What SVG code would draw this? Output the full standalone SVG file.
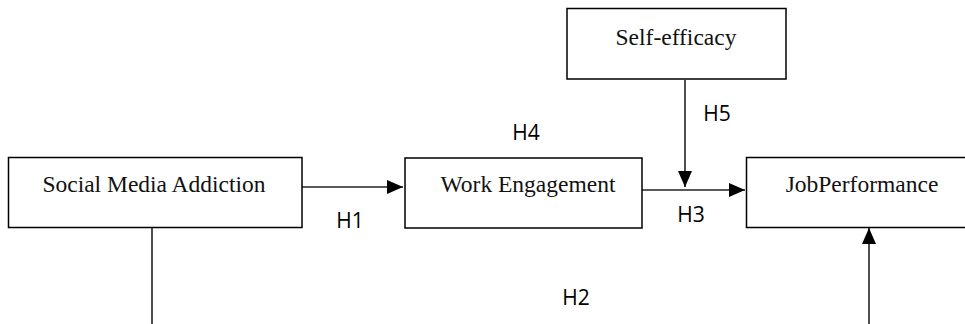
<svg xmlns="http://www.w3.org/2000/svg" width="965" height="324" viewBox="0 0 965 324">
<style>
.box{fill:#fff;stroke:#000;stroke-width:1.5}
.lbl{font-family:"Liberation Serif","Times New Roman",serif;font-size:23.5px;fill:#111;text-anchor:middle}
.h{font-family:"Open Sans","Liberation Sans",sans-serif;font-size:21px;fill:#000;text-anchor:middle}
.c{stroke:#222;stroke-width:1.6;fill:none}
</style>
<defs>
<marker id="ah" viewBox="0 0 16 14" refX="16" refY="7" markerWidth="16" markerHeight="14" markerUnits="userSpaceOnUse" orient="auto">
<path d="M0,0 L16,7 L0,14 Z" fill="#000"/>
</marker>
</defs>
<rect width="965" height="324" fill="#fff"/>
<g id="connectors">
<line class="c" x1="302" y1="187" x2="403" y2="187" marker-end="url(#ah)"/>
<line class="c" x1="642" y1="190" x2="745" y2="190" marker-end="url(#ah)"/>
<line class="c" x1="685" y1="80" x2="685" y2="187" marker-end="url(#ah)"/>
<line class="c" x1="152" y1="228" x2="152" y2="324"/>
<line class="c" x1="869" y1="324" x2="869" y2="228" marker-end="url(#ah)"/>
</g>
<g id="node-sma">
<rect class="box" x="8.5" y="157.5" width="293.5" height="70"/>
<text class="lbl" x="154" y="192">Social Media Addiction</text>
</g>
<g id="node-we">
<rect class="box" x="405" y="158" width="237" height="70"/>
<text class="lbl" x="528" y="192">Work Engagement</text>
</g>
<g id="node-se">
<rect class="box" x="567" y="8.5" width="219" height="70.5"/>
<text class="lbl" x="676" y="45">Self-efficacy</text>
</g>
<g id="node-jp">
<rect class="box" x="746.5" y="157.5" width="240" height="70"/>
<text class="lbl" x="862" y="192">JobPerformance</text>
</g>
<g id="labels">
<text class="h" x="350" y="228">H1</text>
<text class="h" x="576" y="305">H2</text>
<text class="h" x="691" y="222">H3</text>
<text class="h" x="526" y="140">H4</text>
<text class="h" x="717" y="121">H5</text>
</g>
</svg>
